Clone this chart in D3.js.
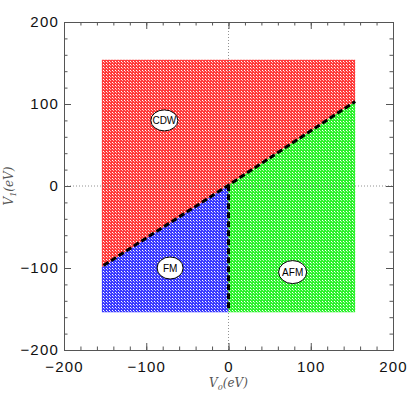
<!DOCTYPE html>
<html>
<head>
<meta charset="utf-8">
<script src="https://cdn.jsdelivr.net/npm/d3@7"></script>
<style>
  body { margin: 0; background: #fff; }
  .tick text { font-family: "Liberation Sans", Arial, sans-serif; font-size: 15px; letter-spacing: 1.2px; fill: #111; }
</style>
</head>
<body>
<script>
// phase diagram V0 / V1
var xDomain = [-200, 200],
    yDomain = [-200, 200];
var majorTicks = [-200, -100, 0, 100, 200];

// extent of the computed grid (marker edges)
var gridMin = -154, gridMax = 154;

// phase boundary CDW | (FM, AFM)
var boundary = [[-154, -99], [0, 1], [154, 103]];
// FM | AFM boundary
var vline = [[0, 1], [0, -154]];
// dashed curves as drawn
var dashDiag = [[-152, -97], [0, 1], [154, 103]];
var dashVert = [[0, 1], [0, -152]];

var phases = ["CDW", "FM", "AFM"];
var phaseColors = ["#ff3b3b", "#3a3aff", "#2cf22c"];
var labelPos = [[-78, 80], [-71, -100], [78, -105]];
var labelRx = [13.5, 13, 14],
    labelRy = [10.5, 11, 11.5];

var width = 415, height = 396;
var margin = {left: 64, right: 22, top: 22, bottom: 46};

var svg = d3.select("body").append("svg")
    .attr("width", width)
    .attr("height", height);

var x = d3.scaleLinear().domain(xDomain).range([margin.left, width - margin.right]);
var y = d3.scaleLinear().domain(yDomain).range([height - margin.bottom, margin.top]);

// dot texture patterns
var defs = svg.append("defs");
phases.forEach(function(p, i) {
  var pat = defs.append("pattern")
      .attr("id", "pat" + i)
      .attr("patternUnits", "userSpaceOnUse")
      .attr("width", 3).attr("height", 3);
  pat.append("rect").attr("width", 3).attr("height", 3).attr("fill", phaseColors[i]);
  pat.append("rect").attr("x", 1).attr("y", 1).attr("width", 1).attr("height", 1).attr("fill", "#fff");
  pat.append("rect").attr("x", 2).attr("y", 2).attr("width", 1).attr("height", 1).attr("fill", "#fff").attr("opacity", 0.6);
});

// region polygons
var regions = [
  [[gridMin, gridMax], [gridMax, gridMax]].concat(boundary.slice().reverse()),
  [boundary[0], boundary[1]].concat(vline.slice(1), [[gridMin, gridMin]]),
  [boundary[1], boundary[2], [gridMax, gridMin]].concat(vline.slice(1))
];

var line = d3.line().x(function(d) { return x(d[0]); }).y(function(d) { return y(d[1]); });

svg.selectAll(".region")
    .data(regions)
    .enter().append("path")
    .attr("class", "region")
    .attr("d", function(d) { return line(d) + "Z"; })
    .attr("fill", function(d, i) { return "url(#pat" + i + ")"; });

// dotted zero lines
svg.append("line")
    .attr("x1", x(0)).attr("x2", x(0))
    .attr("y1", y(yDomain[0])).attr("y2", y(yDomain[1]))
    .attr("stroke", "#777").attr("stroke-width", 0.8).attr("stroke-dasharray", "1,2");
svg.append("line")
    .attr("x1", x(xDomain[0])).attr("x2", x(xDomain[1]))
    .attr("y1", y(0)).attr("y2", y(0))
    .attr("stroke", "#777").attr("stroke-width", 0.8).attr("stroke-dasharray", "1,2");

// boundaries
[dashDiag, dashVert].forEach(function(d) {
  svg.append("path")
      .attr("d", line(d))
      .attr("fill", "none")
      .attr("stroke", "#000")
      .attr("stroke-width", 3)
      .attr("stroke-dasharray", "6,3");
});

// phase labels
var lab = svg.selectAll(".lab")
    .data(phases)
    .enter().append("g")
    .attr("class", "lab")
    .attr("transform", function(d, i) { return "translate(" + x(labelPos[i][0]) + "," + y(labelPos[i][1]) + ")"; });
lab.append("ellipse")
    .attr("rx", function(d, i) { return labelRx[i]; })
    .attr("ry", function(d, i) { return labelRy[i]; })
    .attr("fill", "#fff")
    .attr("stroke", "#000")
    .attr("stroke-width", 1);
lab.append("text")
    .attr("dy", "0.36em")
    .attr("text-anchor", "middle")
    .style("font-family", "Liberation Sans, Arial, sans-serif")
    .style("font-size", "10px")
    .text(function(d) { return d; });

// axes on all four sides
function addAxis(axis, tx, ty) {
  var g = svg.append("g").attr("transform", "translate(" + tx + "," + ty + ")").call(axis);
  g.selectAll("line, path").attr("stroke", "#555");
  return g;
}
var minor = d3.range(-200, 201, 20);

addAxis(d3.axisBottom(x).tickValues(minor).tickSize(-3.5).tickFormat(""), 0, y(-200));
addAxis(d3.axisBottom(x).tickValues(majorTicks).tickSize(-7).tickPadding(11).tickFormat(d3.format("d")), 0, y(-200));
addAxis(d3.axisTop(x).tickValues(minor).tickSize(-3.5).tickFormat(""), 0, y(200));
addAxis(d3.axisTop(x).tickValues(majorTicks).tickSize(-7).tickFormat(""), 0, y(200));
addAxis(d3.axisLeft(y).tickValues(minor).tickSize(-3.5).tickFormat(""), x(-200), 0);
addAxis(d3.axisLeft(y).tickValues(majorTicks).tickSize(-7).tickPadding(5).tickFormat(d3.format("d")), x(-200), 0);
addAxis(d3.axisRight(y).tickValues(minor).tickSize(-3.5).tickFormat(""), x(200), 0);
addAxis(d3.axisRight(y).tickValues(majorTicks).tickSize(-7).tickFormat(""), x(200), 0);

svg.selectAll(".domain").attr("stroke", "#555").attr("stroke-width", 1);

// axis titles
var xt = svg.append("text")
    .attr("x", x(0)).attr("y", 387)
    .attr("text-anchor", "middle")
    .style("font-family", "DejaVu Serif, Liberation Serif, serif")
    .style("font-style", "italic")
    .style("font-size", "12px")
    .attr("fill", "#555");
xt.append("tspan").text("V");
xt.append("tspan").attr("dy", 3).style("font-size", "8px").text("0");
xt.append("tspan").attr("dy", -3).text("(eV)");

var yt = svg.append("text")
    .attr("transform", "translate(13," + y(0) + ") rotate(-90)")
    .attr("text-anchor", "middle")
    .style("font-family", "DejaVu Serif, Liberation Serif, serif")
    .style("font-style", "italic")
    .style("font-size", "12px")
    .attr("fill", "#555");
yt.append("tspan").text("V");
yt.append("tspan").attr("dy", 3).style("font-size", "8px").text("1");
yt.append("tspan").attr("dy", -3).text("(eV)");
</script>
</body>
</html>
